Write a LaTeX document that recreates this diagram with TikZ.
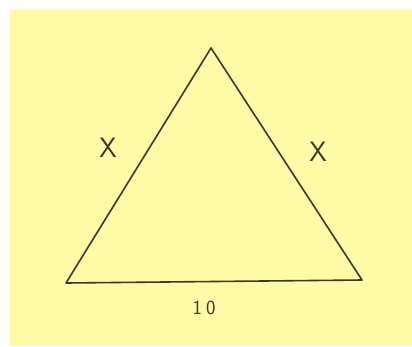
\documentclass[tikz,border=0pt]{standalone}
\usepackage{tikz}
\usetikzlibrary{positioning, calc}
\definecolor{padyellow}{RGB}{255,250,165}
\definecolor{pencil}{RGB}{58,56,40}
\tikzset{
  side/.style  = {draw=pencil, line width=1.6pt, line join=round},
  lbl/.style   = {text=pencil, font=\sffamily\fontsize{28}{28}\selectfont, inner sep=0pt},
  base/.style  = {text=pencil, font=\sffamily\fontsize{20}{20}\selectfont, inner sep=0pt},
}

\begin{document}
\begin{tikzpicture}[x=1pt, y=-1pt]
  \useasboundingbox (0,0) rectangle (412,346);
  \fill[padyellow] (10,10) rectangle (412,346);
  \coordinate (apex) at (211,48);
  \coordinate (bl)   at (66,283);
  \coordinate (br)   at (362,280);
  \draw[side] (apex) -- (br) -- (bl) -- cycle;
  \node[lbl]  (xl)  at (108,148) {X};
  \node[lbl]  (xr)  at (318,152) {X};
  \node[base] (ten) at (204,308) {1\hspace{4pt}0};
\end{tikzpicture}
\end{document}
